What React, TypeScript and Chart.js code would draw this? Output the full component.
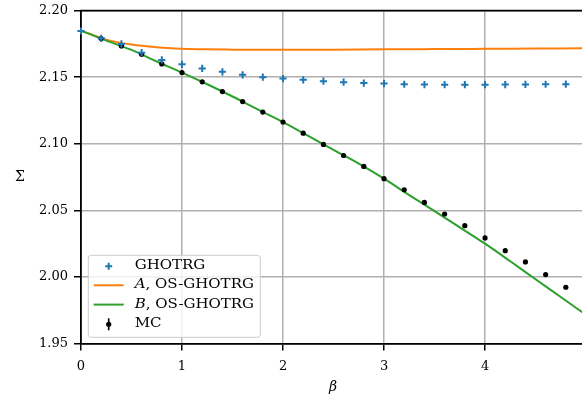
import React, { useEffect, useRef } from 'react';
import { Chart, registerables } from 'chart.js';

Chart.register(...registerables);

// ---- data ----
const ghotrgBeta = [0, 0.2, 0.4, 0.6, 0.8, 1.0, 1.2, 1.4, 1.6, 1.8, 2.0, 2.2, 2.4, 2.6, 2.8, 3.0, 3.2, 3.4, 3.6, 3.8, 4.0, 4.2, 4.4, 4.6, 4.8, 5.0];
const ghotrgSigma = [2.1847, 2.1792, 2.175, 2.1684, 2.163, 2.1597, 2.1566, 2.154, 2.1518, 2.15, 2.149, 2.148, 2.147, 2.1463, 2.1456, 2.1452, 2.1447, 2.1445, 2.1444, 2.1444, 2.1444, 2.1445, 2.1446, 2.1447, 2.1448, 2.1449];

const mcBeta = [0.2, 0.4, 0.6, 0.8, 1.0, 1.2, 1.4, 1.6, 1.8, 2.0, 2.2, 2.4, 2.6, 2.8, 3.0, 3.2, 3.4, 3.6, 3.8, 4.0, 4.2, 4.4, 4.6, 4.8];
const mcSigma = [2.179, 2.1735, 2.1672, 2.16, 2.1535, 2.1465, 2.1392, 2.1317, 2.1238, 2.1163, 2.108, 2.0995, 2.0912, 2.083, 2.0738, 2.0655, 2.056, 2.0473, 2.0385, 2.0293, 2.0198, 2.0113, 2.0018, 1.9923];

const curveBeta = [0, 0.25, 0.5, 0.75, 1.0, 1.25, 1.5, 1.75, 2.0, 2.25, 2.5, 2.75, 3.0, 3.25, 3.5, 3.75, 4.0, 4.25, 4.5, 4.75, 5.0];
const osASigma = [2.185, 2.1782, 2.1745, 2.1725, 2.1714, 2.1709, 2.1707, 2.1706, 2.1706, 2.1706, 2.1707, 2.1708, 2.1709, 2.171, 2.1711, 2.1712, 2.1713, 2.1714, 2.1715, 2.1716, 2.1717];
const osBSigma = [2.185, 2.1775, 2.1705, 2.1618, 2.1535, 2.1447, 2.1355, 2.1258, 2.1163, 2.1059, 2.0954, 2.0851, 2.0738, 2.0615, 2.0495, 2.0373, 2.025, 2.0118, 1.9983, 1.985, 1.9715];

const xTicks = [0, 1, 2, 3, 4];
const yTicks = [1.95, 2.0, 2.05, 2.1, 2.15, 2.2];

const legendItalic = ['', 'A', 'B', ''];
const legendText = ['GHOTRG', ', OS-GHOTRG', ', OS-GHOTRG', 'MC'];

const xLabel = 'β';
const yLabel = 'Σ';

const BLUE = '#1f77b4';
const ORANGE = '#ff7f0e';
const GREEN = '#2ca02c';
const SERIF = '"DejaVu Serif", serif';

const overlayPlugin = {
  id: 'overlay',
  afterDraw(chart: any) {
    const { ctx, chartArea: ca } = chart;
    ctx.save();
    // top spine
    ctx.strokeStyle = '#000';
    ctx.lineWidth = 1.8;
    ctx.beginPath();
    ctx.moveTo(ca.left - 0.9, ca.top);
    ctx.lineTo(ca.right, ca.top);
    ctx.stroke();

    // legend box
    const bw = 172;
    const bh = 82;
    const bx = ca.left + 7.3;
    const by = ca.bottom - 6.3 - bh;
    const r = 3;
    ctx.beginPath();
    ctx.moveTo(bx + r, by);
    ctx.lineTo(bx + bw - r, by);
    ctx.quadraticCurveTo(bx + bw, by, bx + bw, by + r);
    ctx.lineTo(bx + bw, by + bh - r);
    ctx.quadraticCurveTo(bx + bw, by + bh, bx + bw - r, by + bh);
    ctx.lineTo(bx + r, by + bh);
    ctx.quadraticCurveTo(bx, by + bh, bx, by + bh - r);
    ctx.lineTo(bx, by + r);
    ctx.quadraticCurveTo(bx, by, bx + r, by);
    ctx.closePath();
    ctx.fillStyle = 'rgba(255,255,255,0.8)';
    ctx.fill();
    ctx.strokeStyle = '#cccccc';
    ctx.lineWidth = 1;
    ctx.stroke();

    const rows = [11, 30, 49.3, 69];
    const symX = bx + 20.4;
    // GHOTRG cross
    ctx.strokeStyle = BLUE;
    ctx.lineWidth = 2;
    ctx.beginPath();
    ctx.moveTo(symX - 3.5, by + rows[0]);
    ctx.lineTo(symX + 3.5, by + rows[0]);
    ctx.moveTo(symX, by + rows[0] - 3.5);
    ctx.lineTo(symX, by + rows[0] + 3.5);
    ctx.stroke();
    // lines
    ctx.lineWidth = 2;
    ctx.strokeStyle = ORANGE;
    ctx.beginPath();
    ctx.moveTo(symX - 15, by + rows[1]);
    ctx.lineTo(symX + 15, by + rows[1]);
    ctx.stroke();
    ctx.strokeStyle = GREEN;
    ctx.beginPath();
    ctx.moveTo(symX - 15, by + rows[2]);
    ctx.lineTo(symX + 15, by + rows[2]);
    ctx.stroke();
    // MC errorbar symbol
    ctx.strokeStyle = '#000';
    ctx.lineWidth = 1.6;
    ctx.beginPath();
    ctx.moveTo(symX, by + rows[3] - 6);
    ctx.lineTo(symX, by + rows[3] + 6);
    ctx.stroke();
    ctx.fillStyle = '#000';
    ctx.beginPath();
    ctx.arc(symX, by + rows[3], 2.6, 0, Math.PI * 2);
    ctx.fill();

    // legend text
    const tx = bx + 46.4;
    ctx.fillStyle = '#000';
    ctx.textBaseline = 'middle';
    ctx.textAlign = 'left';
    for (let i = 0; i < rows.length; i++) {
      ctx.save();
      ctx.translate(tx, by + rows[i]);
      ctx.scale(1.25, 1);
      let off = 0;
      if (legendItalic[i]) {
        ctx.font = `italic 12px ${SERIF}`;
        ctx.fillText(legendItalic[i], 0, 0);
        off = ctx.measureText(legendItalic[i]).width;
      }
      ctx.font = `12px ${SERIF}`;
      ctx.fillText(legendText[i], off, 0);
      ctx.restore();
    }

    // axis titles
    ctx.fillStyle = '#000';
    ctx.textAlign = 'center';
    ctx.textBaseline = 'middle';
    ctx.font = `italic 14px ${SERIF}`;
    ctx.fillText(xLabel, (ca.left + ca.right) / 2 + 1.5, 387);
    ctx.font = `14px ${SERIF}`;
    ctx.fillText(yLabel, 20, (ca.top + ca.bottom) / 2);
    ctx.restore();
  },
};

export default function App() {
  const ref = useRef<HTMLCanvasElement | null>(null);

  useEffect(() => {
    if (!ref.current) return;
    const tickFont = { family: SERIF, size: 13 };
    const chart = new Chart(ref.current, {
      type: 'scatter',
      data: {
        datasets: [
          {
            label: 'GHOTRG',
            data: ghotrgBeta.map((b, i) => ({ x: b, y: ghotrgSigma[i] })),
            showLine: false,
            pointStyle: 'cross',
            pointRadius: 3.6,
            pointBorderColor: BLUE,
            pointBackgroundColor: BLUE,
            pointBorderWidth: 2,
            clip: 10,
            order: 0,
          },
          {
            label: 'A, OS-GHOTRG',
            data: curveBeta.map((b, i) => ({ x: b, y: osASigma[i] })),
            showLine: true,
            borderColor: ORANGE,
            borderWidth: 2,
            pointRadius: 0,
            cubicInterpolationMode: 'monotone',
            order: 3,
          },
          {
            label: 'B, OS-GHOTRG',
            data: curveBeta.map((b, i) => ({ x: b, y: osBSigma[i] })),
            showLine: true,
            borderColor: GREEN,
            borderWidth: 2,
            pointRadius: 0,
            cubicInterpolationMode: 'monotone',
            order: 2,
          },
          {
            label: 'MC',
            data: mcBeta.map((b, i) => ({ x: b, y: mcSigma[i] })),
            showLine: false,
            pointStyle: 'circle',
            pointRadius: 2.6,
            pointBorderWidth: 0,
            pointBackgroundColor: '#000',
            pointBorderColor: '#000',
            order: 1,
          },
        ],
      },
      options: {
        animation: false,
        responsive: false,
        devicePixelRatio: 1,
        events: [],
        layout: { autoPadding: false, padding: { top: 10.6, right: 0, bottom: 0, left: 0 } },
        plugins: { legend: { display: false }, tooltip: { enabled: false } },
        scales: {
          x: {
            type: 'linear',
            min: 0,
            max: 4.96,
            afterBuildTicks: (s: any) => {
              s.ticks = xTicks.map((v) => ({ value: v }));
            },
            afterFit: (s: any) => {
              s.height = 400 - 343.6;
              s.paddingRight = 0;
              s.paddingLeft = 0;
            },
            grid: { color: '#b0b0b0', lineWidth: 1.5, tickColor: '#000', tickLength: 7, tickWidth: 1.5 },
            border: { color: '#000', width: 1.8 },
            ticks: {
              color: '#000',
              font: tickFont,
              padding: 8,
              maxRotation: 0,
              autoSkip: false,
              callback: (v: any) => String(v),
            },
          },
          y: {
            type: 'linear',
            min: 1.95,
            max: 2.2,
            afterBuildTicks: (s: any) => {
              s.ticks = yTicks.map((v) => ({ value: v }));
            },
            afterFit: (s: any) => {
              s.width = 81;
              s.paddingTop = 0;
              s.paddingBottom = 0;
            },
            grid: { color: '#b0b0b0', lineWidth: 1.5, tickColor: '#000', tickLength: 7, tickWidth: 1.5 },
            border: { color: '#000', width: 1.8 },
            ticks: {
              color: '#000',
              font: tickFont,
              padding: 6,
              autoSkip: false,
              callback: (v: any) => Number(v).toFixed(2),
            },
          },
        },
      },
      plugins: [overlayPlugin],
    } as any);
    return () => chart.destroy();
  }, []);

  return (
    <div style={{ position: 'absolute', left: 0, top: 0, width: 582, height: 400, background: '#fff' }}>
      <canvas ref={ref} width={582} height={400} style={{ display: 'block', width: 582, height: 400 }} />
    </div>
  );
}
